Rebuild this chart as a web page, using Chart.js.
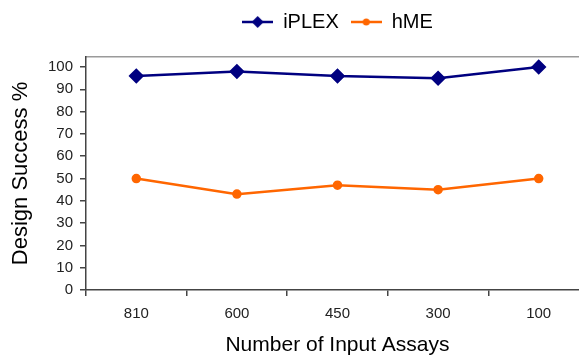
<!DOCTYPE html>
<html>
<head>
<meta charset="utf-8">
<script src="https://cdn.jsdelivr.net/npm/chart.js@4.4.1/dist/chart.umd.min.js"></script>
<style>
    html, body { margin: 0; padding: 0; background: #ffffff; overflow: hidden; }
    #wrap { position: relative; width: 600px; height: 356px; }
</style>
</head>
<body>
<div id="wrap"><canvas id="chart"></canvas></div>
<script>
// Data
const categories = ['810', '600', '450', '300', '100'];
const iplexValues = [96, 98, 96, 95, 100];
const hmeValues = [50, 43, 47, 45, 50];
const yTicks = [0, 10, 20, 30, 40, 50, 60, 70, 80, 90, 100];

const navy = '#000080';
const orange = '#ff6600';
const axisGrey = '#444444';

Chart.defaults.font.family = '"Liberation Sans", Arial, sans-serif';
Chart.defaults.color = '#222222';

// Legend symbol: short line with the series marker in the middle
function legendSymbol(color, marker) {
    const c = document.createElement('canvas');
    c.width = 31;
    c.height = 14;
    const ctx = c.getContext('2d');
    ctx.strokeStyle = color;
    ctx.lineWidth = 2.5;
    ctx.beginPath();
    ctx.moveTo(0, 7);
    ctx.lineTo(31, 7);
    ctx.stroke();
    ctx.fillStyle = color;
    ctx.beginPath();
    if (marker === 'diamond') {
        ctx.moveTo(15.5, 1);
        ctx.lineTo(21.5, 7);
        ctx.lineTo(15.5, 13);
        ctx.lineTo(9.5, 7);
    } else {
        ctx.arc(15.5, 7, 3.5, 0, Math.PI * 2);
    }
    ctx.closePath();
    ctx.fill();
    return c;
}

const symbols = [legendSymbol(navy, 'diamond'), legendSymbol(orange, 'circle')];

new Chart(document.getElementById('chart'), {
    type: 'line',
    data: {
        labels: categories,
        datasets: [
            {
                label: 'iPLEX',
                data: iplexValues,
                borderColor: navy,
                backgroundColor: navy,
                borderWidth: 2.5,
                pointStyle: 'rectRot',
                pointRadius: 6,
            },
            {
                label: 'hME',
                data: hmeValues,
                borderColor: orange,
                backgroundColor: orange,
                borderWidth: 2.5,
                pointStyle: 'circle',
                pointRadius: 3.5,
            },
        ],
    },
    options: {
        responsive: true,
        maintainAspectRatio: false,
        animation: false,
        layout: {
            padding: { left: 0, right: 11, top: 0, bottom: 0 },
        },
        plugins: {
            tooltip: { enabled: false },
            legend: {
                position: 'top',
                fullSize: false,
                labels: {
                    usePointStyle: true,
                    pointStyleWidth: 31,
                    padding: 12,
                    color: '#000000',
                    font: { size: 20 },
                    generateLabels: function (chart) {
                        return chart.data.datasets.map((ds, i) => ({
                            text: ds.label,
                            pointStyle: symbols[i],
                            fillStyle: ds.borderColor,
                            strokeStyle: ds.borderColor,
                            lineWidth: 0,
                            fontColor: '#000000',
                            datasetIndex: i,
                        }));
                    },
                },
            },
        },
        scales: {
            x: {
                type: 'category',
                position: 'bottom',
                offset: true,
                afterFit: function (scale) {
                    scale.height = 66;
                },
                border: { color: axisGrey, width: 1.5 },
                grid: {
                    display: true,
                    drawOnChartArea: false,
                    offset: true,
                    tickLength: 6,
                    lineWidth: 1.5,
                    color: axisGrey,
                },
                ticks: {
                    padding: 9,
                    maxRotation: 0,
                    color: '#222222',
                    font: { size: 15 },
                },
                title: {
                    display: true,
                    text: 'Number of Input Assays',
                    color: '#000000',
                    font: { size: 21, lineHeight: 1 },
                    padding: { top: 0, bottom: 0 },
                },
            },
            frameTop: {
                type: 'category',
                position: 'top',
                afterFit: function (scale) {
                    scale.height = 15;
                },
                border: { color: '#9a9a9a', width: 1.5 },
                grid: { display: false },
                ticks: { display: false },
            },
            y: {
                min: 0,
                max: 104.5,
                afterFit: function (scale) {
                    scale.width = 86;
                },
                afterBuildTicks: function (scale) {
                    scale.ticks = yTicks.map((v) => ({ value: v }));
                },
                border: { color: axisGrey, width: 1.5 },
                grid: {
                    display: true,
                    drawOnChartArea: false,
                    tickLength: 6,
                    lineWidth: 1.5,
                    color: axisGrey,
                },
                ticks: {
                    padding: 7,
                    color: '#222222',
                    font: { size: 15 },
                },
                title: {
                    display: true,
                    text: 'Design Success %',
                    color: '#000000',
                    font: { size: 22, lineHeight: 1 },
                    padding: { top: 10, bottom: 0 },
                },
            },
        },
    },
});
</script>
</body>
</html>
